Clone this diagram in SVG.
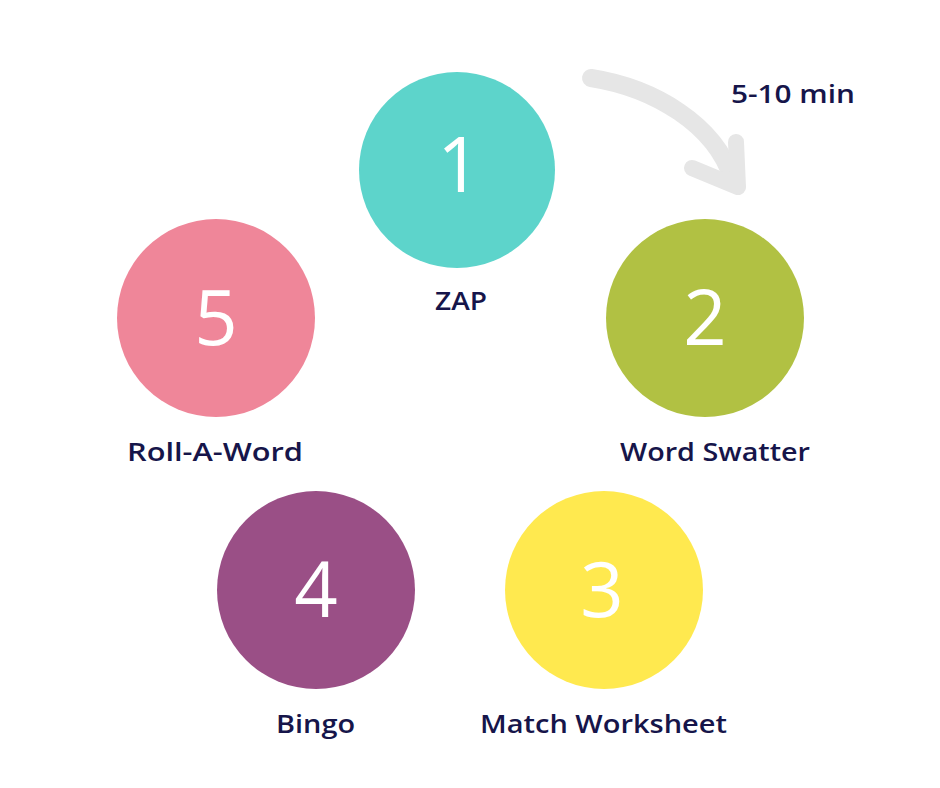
<svg xmlns="http://www.w3.org/2000/svg" width="940" height="788" viewBox="0 0 940 788">
<style>
.num{font-family:"Open Sans","Liberation Sans",sans-serif;font-size:76px;fill:#ffffff;text-anchor:middle;font-weight:500}
.lbl{font-family:"Open Sans","Liberation Sans",sans-serif;font-size:25px;fill:#16154a;font-weight:600}
.arrow{fill:none;stroke:#e6e6e6;stroke-linecap:round;stroke-linejoin:round}
</style>
<rect width="940" height="788" fill="#ffffff"/>
<g id="connectors">
<path class="arrow" stroke-width="18" d="M591,78 C655,88 715,125 732,178"/>
<path class="arrow" stroke-width="16" d="M692,168 L738,187 L736,142"/>
</g>
<g id="duration"><text class="lbl" x="731" y="103" textLength="124" lengthAdjust="spacingAndGlyphs">5-10 min</text></g>
<g id="node1">
<circle cx="457" cy="170" r="98" fill="#5dd4cb"/>
<text class="num" x="459" y="192">1</text>
<text class="lbl" x="435" y="310" textLength="52" lengthAdjust="spacingAndGlyphs">ZAP</text>
</g>
<g id="node2">
<circle cx="705" cy="318" r="99" fill="#b1c143"/>
<text class="num" x="705" y="345">2</text>
<text class="lbl" x="620" y="461" textLength="190" lengthAdjust="spacingAndGlyphs">Word Swatter</text>
</g>
<g id="node3">
<circle cx="604" cy="590" r="99" fill="#ffe94f"/>
<text class="num" x="602" y="617">3</text>
<text class="lbl" x="480" y="733" textLength="247" lengthAdjust="spacingAndGlyphs">Match Worksheet</text>
</g>
<g id="node4">
<circle cx="316" cy="590" r="99" fill="#9a4f86"/>
<text class="num" x="316" y="617">4</text>
<text class="lbl" x="276" y="733" textLength="79" lengthAdjust="spacingAndGlyphs">Bingo</text>
</g>
<g id="node5">
<circle cx="216" cy="318" r="99" fill="#ef8699"/>
<text class="num" x="216" y="345">5</text>
<text class="lbl" x="127" y="461" textLength="176" lengthAdjust="spacingAndGlyphs">Roll-A-Word</text>
</g>
</svg>
